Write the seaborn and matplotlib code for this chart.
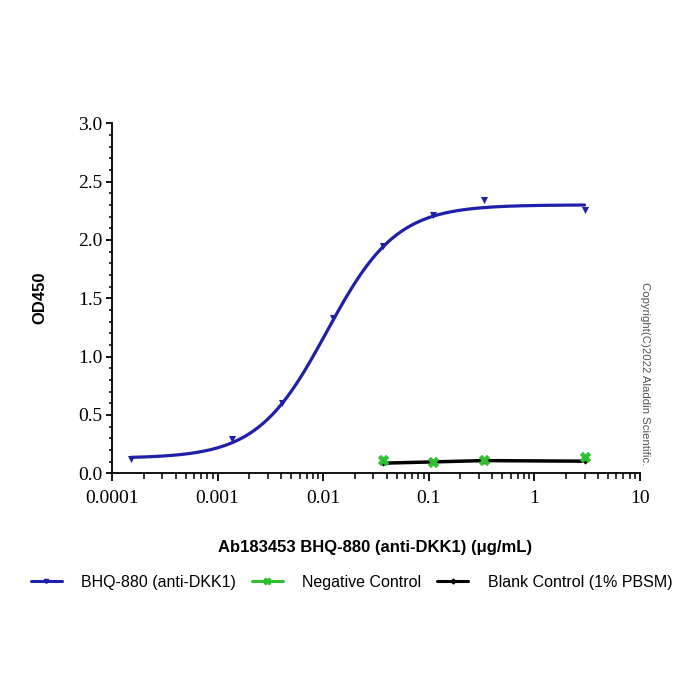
import numpy as np
import pandas as pd
import matplotlib
matplotlib.use("Agg")
import matplotlib.pyplot as plt
import seaborn as sns
from matplotlib.ticker import LogLocator, MultipleLocator, FixedLocator, NullFormatter
from matplotlib.lines import Line2D

# ---- data ----
conc_bhq = [0.000152, 0.00137, 0.00412, 0.0123, 0.037, 0.111, 0.333, 3.0]
od_bhq = [0.123, 0.294, 0.60, 1.33, 1.95, 2.21, 2.34, 2.26]

conc_ctrl = [0.037, 0.111, 0.333, 3.0]
od_neg = [0.114, 0.097, 0.114, 0.137]
od_blank = [0.086, 0.097, 0.108, 0.103]

# 4PL fit parameters (bottom, top, logEC50, hill)
fit_bottom, fit_top, fit_logec50, fit_hill = 0.128, 2.30, -1.965, 1.32

x_ticks = [0.0001, 0.001, 0.01, 0.1, 1, 10]
x_ticklabels = ["0.0001", "0.001", "0.01", "0.1", "1", "10"]
y_ticks = [0.0, 0.5, 1.0, 1.5, 2.0, 2.5, 3.0]

labels = ["BHQ-880 (anti-DKK1)", "Negative Control", "Blank Control (1% PBSM)"]
colors = ["#1f1fa8", "#2fc02f", "#000000"]

sns.set_theme(style="ticks")
plt.rcParams["font.family"] = ["Liberation Sans", "DejaVu Sans"]
plt.rcParams["text.color"] = "black"
plt.rcParams["axes.labelcolor"] = "black"
plt.rcParams["xtick.color"] = "black"
plt.rcParams["ytick.color"] = "black"

fig = plt.figure(figsize=(7, 7), dpi=100)
ax = fig.add_axes([0.16, 0.324, 0.754, 0.5])

# fitted curve
xf = np.logspace(np.log10(conc_bhq[0]), np.log10(conc_bhq[-1]), 300)
yf = fit_bottom + (fit_top - fit_bottom) / (1 + 10 ** ((fit_logec50 - np.log10(xf)) * fit_hill))
df_fit = pd.DataFrame({"x": xf, "y": yf})
sns.lineplot(data=df_fit, x="x", y="y", ax=ax, color=colors[0], lw=2.3, zorder=3)

df_bhq = pd.DataFrame({"x": conc_bhq, "y": od_bhq})
sns.scatterplot(data=df_bhq, x="x", y="y", ax=ax, marker="v", s=26, color=colors[0],
                edgecolor=colors[0], linewidth=0, zorder=4)

df_neg = pd.DataFrame({"x": conc_ctrl, "y": od_neg})
sns.scatterplot(data=df_neg, x="x", y="y", ax=ax, marker="X", s=55, color=colors[1],
                edgecolor=colors[1], linewidth=0.5, zorder=5)

df_blank = pd.DataFrame({"x": conc_ctrl, "y": od_blank})
sns.lineplot(data=df_blank, x="x", y="y", ax=ax, color=colors[2], lw=2.5, zorder=4)
sns.scatterplot(data=df_blank, x="x", y="y", ax=ax, marker="D", s=10, color=colors[2],
                edgecolor=colors[2], linewidth=0, zorder=4)

ax.set_xscale("log")
ax.set_xlim(0.0001, 10)
ax.set_ylim(0, 3.0)
ax.xaxis.set_major_locator(FixedLocator(x_ticks))
ax.set_xticklabels(x_ticklabels)
ax.xaxis.set_minor_locator(LogLocator(base=10, subs=np.arange(2, 10)))
ax.xaxis.set_minor_formatter(NullFormatter())
ax.yaxis.set_major_locator(FixedLocator(y_ticks))
ax.set_yticklabels([f"{v:.1f}" for v in y_ticks])
ax.yaxis.set_minor_locator(MultipleLocator(0.1))

for s in ["top", "right"]:
    ax.spines[s].set_visible(False)
for s in ["left", "bottom"]:
    ax.spines[s].set_linewidth(1.3)
    ax.spines[s].set_color("black")

ax.tick_params(axis="both", which="major", direction="out", length=6, width=1.3,
               colors="black", labelcolor="black", labelsize=14)
ax.tick_params(axis="x", which="major", pad=6)
ax.tick_params(axis="y", which="major", length=4, pad=3)
ax.tick_params(axis="both", which="minor", direction="out", length=4, width=1.1, colors="black")
ax.tick_params(axis="y", which="minor", length=2.5)
for lab in ax.get_xticklabels() + ax.get_yticklabels():
    lab.set_fontfamily("Liberation Serif")

ax.set_xlabel("Ab183453 BHQ-880 (anti-DKK1) (μg/mL)", fontsize=12, fontweight="bold", color="black")
ax.set_ylabel("OD450", fontsize=12, fontweight="bold", color="black")
ax.xaxis.set_label_coords(0.498, -0.192)
ax.yaxis.set_label_coords(-0.123, 0.5)

# legend
handles = [
    Line2D([], [], color=colors[0], lw=2.2, marker="v", ms=3),
    Line2D([], [], color=colors[1], lw=2.2, marker="X", ms=5),
    Line2D([], [], color=colors[2], lw=2.2, marker="D", ms=2.5),
]
leg = fig.legend(handles, labels, loc="center", bbox_to_anchor=(0.502, 1 - 582 / 700), ncol=3,
                 frameon=False, fontsize=11.5, handlelength=1.95, columnspacing=1.0,
                 handletextpad=1.2, labelcolor="black")

fig.text(0.921, 1 - 374 / 700, "Copyright(C)2022 Aladdin Scientific.", rotation=-90,
         fontsize=8.2, color="#555555", ha="center", va="center")

fig.savefig("out.png", dpi=100, facecolor="white")
